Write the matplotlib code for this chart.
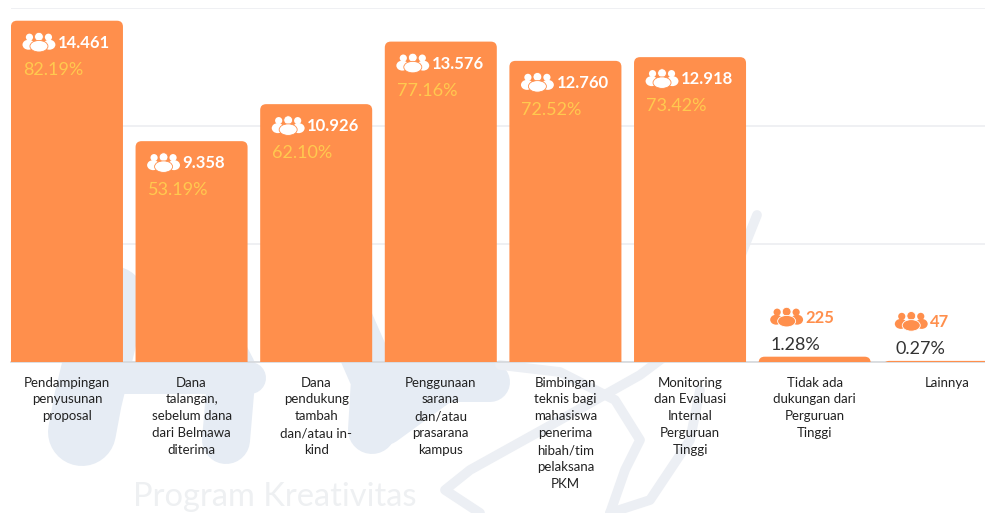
import matplotlib
matplotlib.use('Agg')
import matplotlib.pyplot as plt
from matplotlib.patches import Circle, Ellipse, FancyBboxPatch
from matplotlib.transforms import IdentityTransform, ScaledTranslation

categories = [
    'Pendampingan\npenyusunan\nproposal',
    'Dana\ntalangan,\nsebelum dana\ndari Belmawa\nditerima',
    'Dana\npendukung\ntambah\ndan/atau in-\nkind',
    'Penggunaan\nsarana\ndan/atau\nprasarana\nkampus',
    'Bimbingan\nteknis bagi\nmahasiswa\npenerima\nhibah/tim\npelaksana\nPKM',
    'Monitoring\ndan Evaluasi\nInternal\nPerguruan\nTinggi',
    'Tidak ada\ndukungan dari\nPerguruan\nTinggi',
    'Lainnya',
]
counts = [14461, 9358, 10926, 13576, 12760, 12918, 225, 47]
percents = ['82.19%', '53.19%', '62.10%', '77.16%', '72.52%', '73.42%', '1.28%', '0.27%']
yticks = [0, 5000, 10000, 15000]

ORANGE = '#ff8f4c'
YELLOW = '#ffc94f'
DARK = '#333333'
WM = '#e6ecf4'
WM_LINE = '#eceff4'

plt.rcParams['font.family'] = ['Lato', 'DejaVu Sans']

W, H = 985, 513
fig = plt.figure(figsize=(W / 100, H / 100), dpi=100)

# faint watermark behind the chart, in pixel coordinates
bg = fig.add_axes([0, 0, 1, 1], zorder=0)
bg.set_xlim(0, W)
bg.set_ylim(H, 0)
bg.axis('off')
for xs, ys, lw in [
    ([112, 88, 82], [300, 400, 432], 68),
    ([170, 232, 226], [250, 370, 440], 48),
    ([340, 375, 372], [300, 380, 430], 48),
    ([120, 250], [378, 378], 32),
    ([380, 490], [382, 382], 40),
    ([385, 440], [425, 385], 40),
]:
    bg.plot(xs, ys, color=WM, lw=lw * 0.72, solid_capstyle='round')
for xs, ys in [
    ([757, 735, 700, 640, 560, 470, 445, 480], [215, 270, 330, 375, 420, 470, 490, 513]),
    ([500, 560, 615, 640, 625, 610], [365, 372, 400, 440, 470, 513]),
    ([610, 650, 690, 700], [513, 500, 440, 390]),
    ([735, 700], [220, 330]),
]:
    bg.plot(xs, ys, color=WM_LINE, lw=7, solid_capstyle='round', solid_joinstyle='round')
bg.text(133, 497, 'Program Kreativitas', fontsize=23.5, color='#eef0f2', va='center', ha='left')

# chart area: 11..985 px wide, gridlines 8..362 px high
ax = fig.add_axes([11 / W, 1 - 362 / H, (985 - 11) / W, (362 - 8) / H], zorder=1)
ax.patch.set_alpha(0)
ax.set_xlim(-0.449, 7.367)
ax.set_ylim(0, 15000)

ax.set_yticks(yticks)
ax.tick_params(axis='y', left=False, labelleft=False)
ax.set_xticks(range(len(categories)))
ax.set_xticklabels(categories, fontsize=9.5, color='#222222', linespacing=1.49)
ax.tick_params(axis='x', bottom=False, pad=7)
ax.grid(True, axis='y', color='#eceef1', lw=1.2)
ax.set_axisbelow(True)
for side in ['top', 'left', 'right']:
    ax.spines[side].set_visible(False)
ax.spines['bottom'].set_color('#d5d8dc')
ax.spines['bottom'].set_linewidth(1.2)

# last label sits a little right of its clipped bar
last = ax.get_xticklabels()[-1]
last.set_transform(last.get_transform() + ScaledTranslation(8 / 100, 0, fig.dpi_scale_trans))

px_x = 124.6
px_y = 354 / 15000
bar_w = 112 / px_x
radius = 6 / px_x
aspect = (6 / px_y) / radius

for i, v in enumerate(counts):
    # box starts below zero so only the top corners show rounded
    low = -6 / px_y
    ax.add_patch(FancyBboxPatch((i - bar_w / 2, low), bar_w, v - low,
                                boxstyle=f'round,pad=0,rounding_size={radius}',
                                mutation_aspect=aspect, fc=ORANGE, ec='none', zorder=3))


def people_icon(cx, cy, color, edge):
    # three person group glyph, size in pixels, y going up
    t = IdentityTransform()
    for dx in [-9.5, 9.5]:
        ax.add_patch(Circle((cx + dx, cy + 4.5), 3.6, fc=color, ec='none', transform=t, zorder=4))
        ax.add_patch(Ellipse((cx + dx * 1.1, cy - 3), 12, 10, fc=color, ec='none', transform=t, zorder=4))
    ax.add_patch(Circle((cx, cy + 5), 4.4, fc=color, ec=edge, lw=0.6, transform=t, zorder=5))
    ax.add_patch(Ellipse((cx, cy - 4.5), 18, 11.5, fc=color, ec=edge, lw=0.6, transform=t, zorder=5))


fig.canvas.draw()
for i, (v, pct) in enumerate(zip(counts, percents)):
    left = i - bar_w / 2
    inside = v > 5000
    count_txt = f'{v:,}'.replace(',', '.')
    if inside:
        dy_count, dy_pct = -20, -47
        c_count, c_pct, c_icon, c_edge = 'white', YELLOW, 'white', ORANGE
    else:
        # small bars carry their labels above the bar
        dy_count, dy_pct = 41, 14
        c_count, c_pct, c_icon, c_edge = ORANGE, DARK, ORANGE, 'white'
    ax.annotate(count_txt, (left, v), xytext=(47, dy_count - 2), textcoords='offset pixels',
                fontsize=12, fontweight='bold', color=c_count, va='center', ha='left', zorder=6)
    ax.annotate(pct, (left, v), xytext=(12, dy_pct - 2), textcoords='offset pixels',
                fontsize=13, color=c_pct, va='center', ha='left', zorder=6)
    px, py = ax.transData.transform((left, v))
    people_icon(px + 28, py + dy_count - 1, c_icon, c_edge)

fig.savefig('out.png', dpi=100, facecolor='white')
